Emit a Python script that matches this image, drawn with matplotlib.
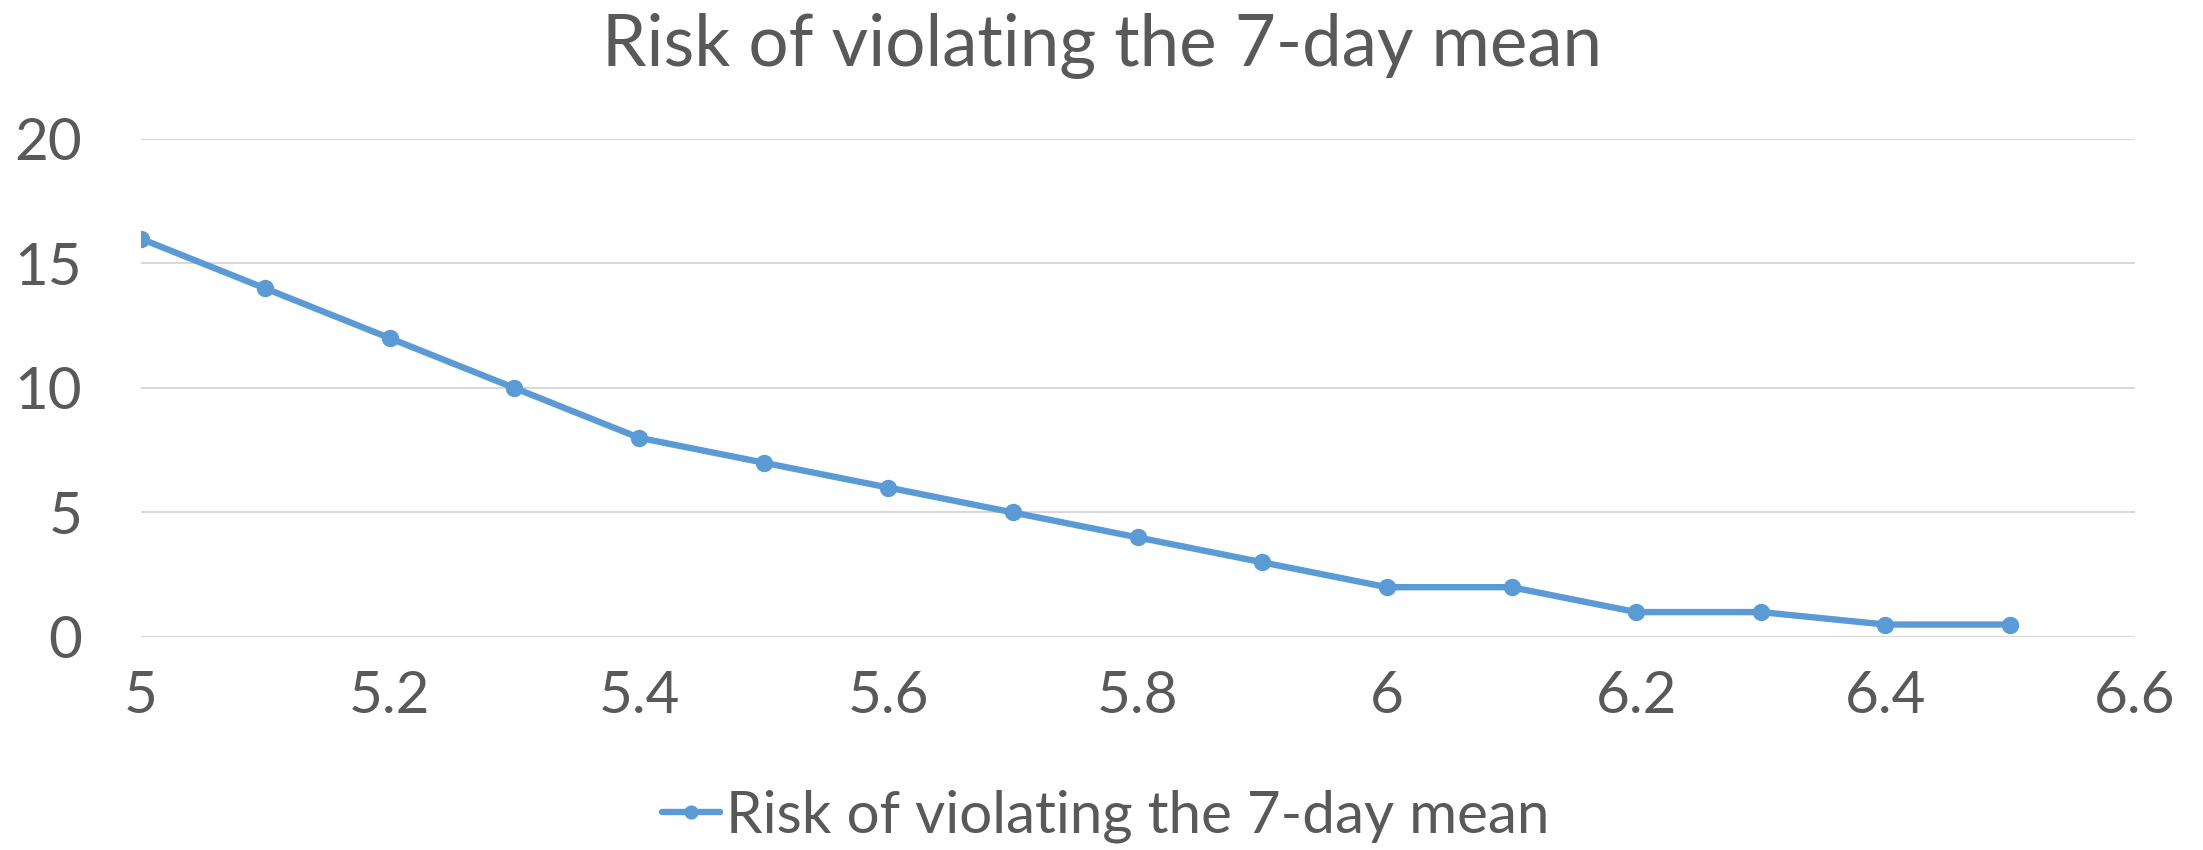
import matplotlib
matplotlib.use("Agg")
import matplotlib.pyplot as plt

# threshold value vs. risk of exceeding the 7-day mean
threshold = [5.0, 5.1, 5.2, 5.3, 5.4, 5.5, 5.6, 5.7, 5.8, 5.9, 6.0, 6.1, 6.2, 6.3, 6.4, 6.5]
risk = [16, 14, 12, 10, 8, 7, 6, 5, 4, 3, 2, 2, 1, 1, 0.5, 0.5]
x_ticks = [5, 5.2, 5.4, 5.6, 5.8, 6, 6.2, 6.4, 6.6]
x_tick_labels = ["5", "5.2", "5.4", "5.6", "5.8", "6", "6.2", "6.4", "6.6"]
y_ticks = [0, 5, 10, 15, 20]

series_name = "Risk of violating the 7-day mean"
BLUE = "#5B9BD5"
TEXT = "#595959"
GRID = "#D9D9D9"

plt.rcParams["font.family"] = ["Lato", "DejaVu Sans"]

fig = plt.figure(figsize=(22.03, 8.5), dpi=100)
ax = fig.add_axes([0.0638, 0.2506, 0.9052, 0.5859])

ax.plot(threshold, risk, color=BLUE, lw=4.6, marker="o", ms=11.5,
        label=series_name, solid_capstyle="round")

ax.set_xlim(5, 6.6)
ax.set_ylim(0, 20)
ax.set_xticks(x_ticks)
ax.set_xticklabels(x_tick_labels)
ax.set_yticks(y_ticks)
ax.yaxis.grid(True, color=GRID, lw=1.5)
ax.set_axisbelow(True)
for s in ax.spines.values():
    s.set_visible(False)
ax.tick_params(axis="both", length=0, labelsize=42, labelcolor=TEXT)
ax.tick_params(axis="x", pad=24)
ax.tick_params(axis="y", pad=42)

fig.suptitle(series_name, x=0.5, y=0.985, fontsize=51, color=TEXT, va="top")

leg = fig.legend(loc="center", bbox_to_anchor=(0.502, 0.04), frameon=False,
                 fontsize=42, handlelength=1.0, handletextpad=0.1, labelcolor=TEXT,
                 markerscale=0.8)

fig.savefig("out.png", dpi=100)
